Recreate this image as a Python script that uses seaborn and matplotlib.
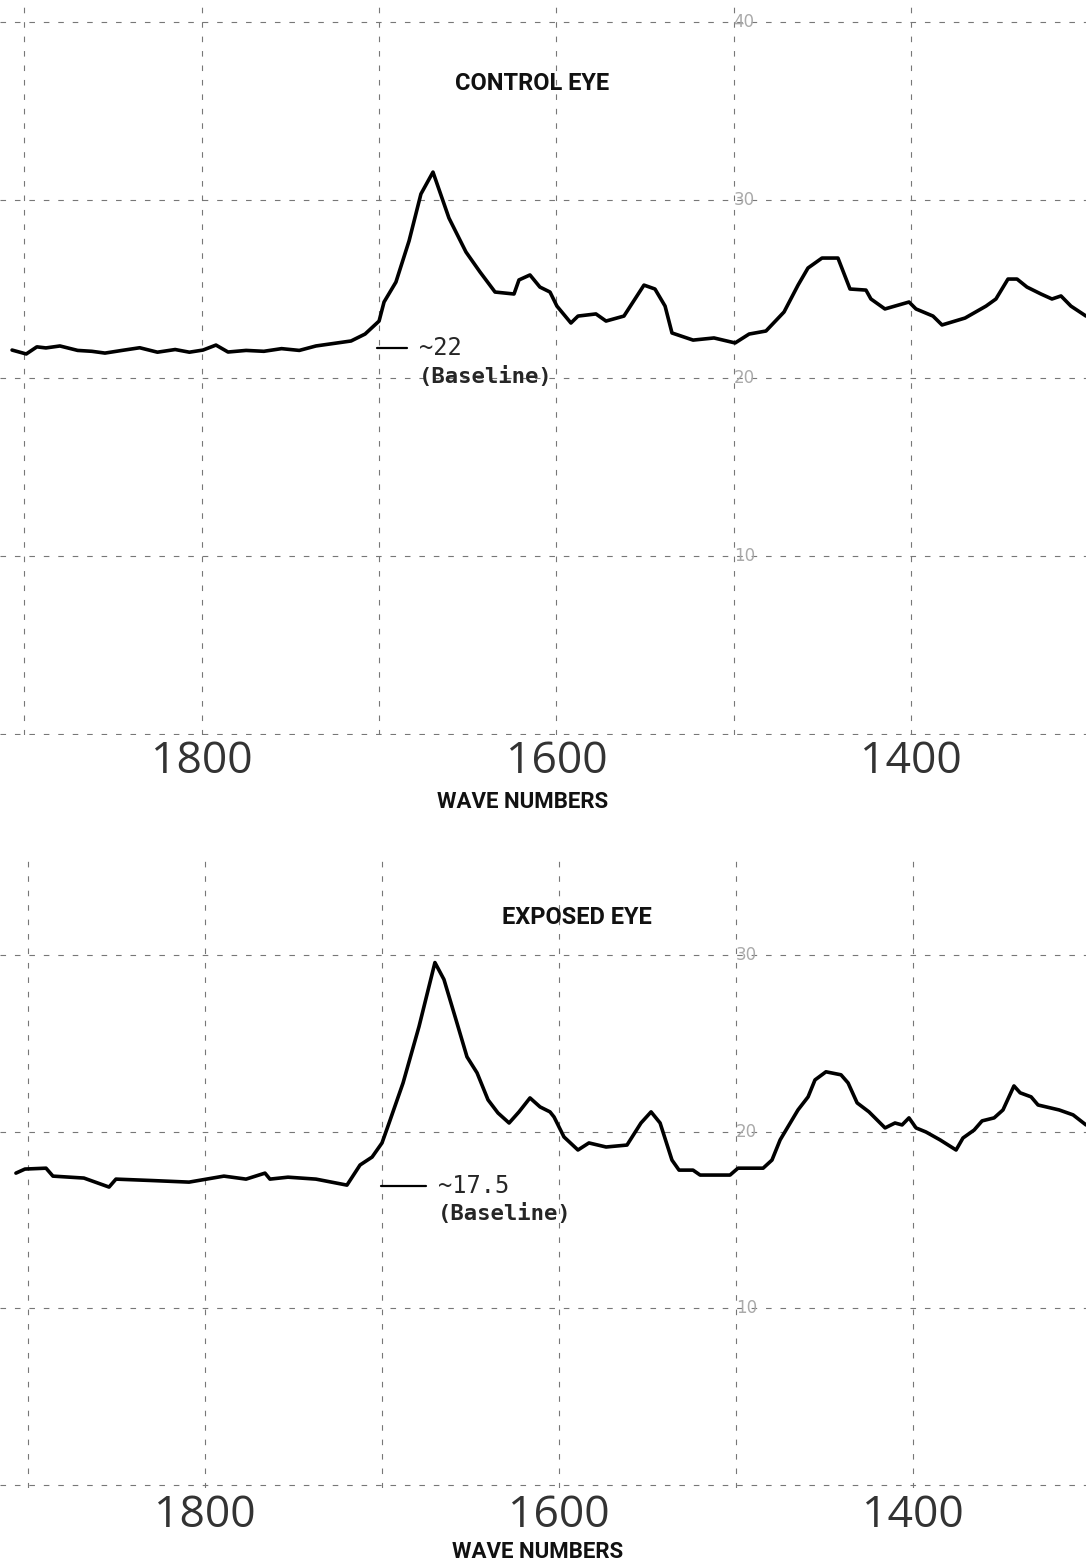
import matplotlib
matplotlib.use("Agg")
import matplotlib.pyplot as plt
import seaborn as sns
import pandas as pd

sns.set_style("white")
plt.rcParams['font.family'] = ['DejaVu Sans']

# ---- data (wave numbers, cm^-1, vs. reading) ----
control_wn = [1907.0, 1899.0, 1893.0, 1887.9, 1880.0, 1870.0, 1862.0, 1854.6, 1845.0, 1835.0,
              1825.0, 1815.0, 1807.0, 1799.3, 1792.0, 1785.2, 1775.0, 1765.0, 1755.0, 1745.0,
              1735.6, 1725.0, 1715.8, 1707.9, 1700.0, 1697.2, 1690.5, 1683.1, 1676.4, 1669.6,
              1660.6, 1651.0, 1643.1, 1634.6, 1623.9, 1621.1, 1614.9, 1609.3, 1603.6, 1599.7,
              1591.8, 1587.8, 1577.7, 1572.0, 1561.9, 1550.6, 1544.4, 1538.7, 1534.8, 1522.9,
              1511.1, 1499.2, 1491.3, 1481.8, 1471.6, 1463.7, 1458.1, 1450.2, 1441.2, 1434.4,
              1425.4, 1422.6, 1414.7, 1401.1, 1397.2, 1387.6, 1382.5, 1369.5, 1357.7, 1352.1,
              1345.3, 1340.2, 1334.6, 1326.7, 1320.5, 1315.4, 1309.8, 1301.3]
control_val = [21.57, 21.35, 21.75, 21.69, 21.80, 21.55, 21.50, 21.40, 21.55, 21.70,
               21.45, 21.60, 21.45, 21.57, 21.85, 21.46, 21.55, 21.50, 21.65, 21.55,
               21.80, 21.95, 22.08, 22.47, 23.20, 24.27, 25.39, 27.70, 30.34, 31.57,
               28.99, 27.08, 25.96, 24.83, 24.72, 25.51, 25.79, 25.11, 24.83, 24.04,
               23.09, 23.48, 23.60, 23.20, 23.48, 25.22, 25.00, 24.04, 22.53, 22.13,
               22.25, 21.97, 22.47, 22.64, 23.71, 25.22, 26.18, 26.74, 26.74, 25.00,
               24.94, 24.44, 23.88, 24.27, 23.88, 23.48, 22.98, 23.37, 24.04, 24.44,
               25.56, 25.56, 25.11, 24.72, 24.44, 24.61, 24.04, 23.48]

exposed_wn = [1906.8, 1901.7, 1889.8, 1885.9, 1868.4, 1854.2, 1850.3, 1830.0, 1809.0, 1789.3,
              1776.8, 1766.1, 1763.3, 1753.1, 1737.3, 1719.8, 1712.4, 1705.6, 1700.0, 1696.0,
              1688.1, 1679.1, 1670.1, 1665.0, 1658.2, 1652.0, 1646.3, 1640.1, 1634.5, 1628.2,
              1622.6, 1616.4, 1610.7, 1605.1, 1602.8, 1597.2, 1589.3, 1583.1, 1573.4, 1561.6,
              1553.7, 1548.0, 1542.9, 1536.2, 1532.2, 1524.3, 1520.3, 1503.4, 1498.9, 1484.7,
              1479.7, 1475.1, 1465.0, 1459.3, 1455.4, 1449.2, 1440.7, 1436.7, 1431.6, 1424.9,
              1415.8, 1410.2, 1406.2, 1402.3, 1398.3, 1392.7, 1384.7, 1375.7, 1371.8, 1365.5,
              1361.0, 1354.2, 1349.2, 1343.0, 1339.5, 1333.3, 1329.4, 1317.5, 1309.6, 1302.3]
exposed_val = [17.67, 17.90, 17.95, 17.50, 17.39, 16.88, 17.33, 17.25, 17.16, 17.50,
               17.33, 17.67, 17.33, 17.44, 17.33, 16.99, 18.13, 18.58, 19.38, 20.51,
               22.78, 25.97, 29.60, 28.64, 26.36, 24.26, 23.35, 21.82, 21.08, 20.51,
               21.14, 21.93, 21.42, 21.14, 20.85, 19.72, 18.98, 19.38, 19.15, 19.26,
               20.51, 21.14, 20.51, 18.41, 17.84, 17.84, 17.56, 17.56, 17.95, 17.95,
               18.41, 19.55, 21.25, 21.99, 22.95, 23.41, 23.24, 22.78, 21.65, 21.14,
               20.23, 20.51, 20.40, 20.80, 20.23, 20.00, 19.55, 18.98, 19.66, 20.11,
               20.63, 20.80, 21.25, 22.61, 22.22, 21.99, 21.53, 21.25, 20.97, 20.40]

tick_wn = [1800, 1600, 1400]
tick_labels = ["1800", "1600", "1400"]
grid_wn = [1900, 1800, 1700, 1600, 1500, 1400, 1300]
grid_val = [0, 10, 20, 30, 40]

W, H = 1086, 1566
fig = plt.figure(figsize=(W / 100, H / 100), dpi=100)

def add_ax(top_px, bot_px):
    return fig.add_axes([0, 1 - bot_px / H, 1, (bot_px - top_px) / H])

def ftext(x_px, y_px, s, **kw):
    fig.text(x_px / W, 1 - y_px / H, s, **kw)

ax1 = add_ax(0, 735)
ax2 = add_ax(860, 1488)

panels = [
    (ax1, control_wn, control_val, (1913.8, 1301.3), (-0.06, 41.24), 3.0),
    (ax2, exposed_wn, exposed_val, (1915.8, 1302.3), (-0.17, 35.41), 4.0),
]

for ax, wn, val, xl, yl, pad in panels:
    for g in grid_wn:
        ax.axvline(g, color="#777777", lw=0.8, ls=(0, (5, 8)), zorder=0)
    for g in grid_val:
        ax.axhline(g, color="#777777", lw=0.8, ls=(0, (5, 8)), zorder=0)
    df = pd.DataFrame({"wn": wn, "val": val})
    sns.lineplot(data=df, x="wn", y="val", ax=ax, sort=False, estimator=None,
                 color="black", lw=2.6)
    ax.set_xlim(*xl)
    ax.set_ylim(*yl)
    for s in ax.spines.values():
        s.set_visible(False)
    ax.set_yticks([])
    ax.set_xticks(tick_wn)
    ax.set_xticklabels(tick_labels, fontsize=32, color="#333333",
                       family=["Open Sans", "DejaVu Sans"])
    ax.tick_params(axis="x", length=0, pad=pad)
    ax.set_xlabel("")
    ax.set_ylabel("")
    ax.patch.set_alpha(0)

lab_kw = dict(ha="center", va="center", fontweight="bold", color="#111111",
              family=["Roboto", "DejaVu Sans"])
ftext(523, 802, "WAVE NUMBERS", fontsize=16, **lab_kw)
ftext(538, 1552, "WAVE NUMBERS", fontsize=16, **lab_kw)
ftext(532, 83, "CONTROL EYE", fontsize=17, **lab_kw)
ftext(577, 917, "EXPOSED EYE", fontsize=17, **lab_kw)

# faint grid value labels
for v, s in [(40, "40"), (30, "30"), (20, "20"), (10, "10")]:
    ax1.text(1500, v, s, ha="left", va="center", fontsize=12, color="#aaaaaa")
for v, s in [(30, "30"), (20, "20"), (10, "10")]:
    ax2.text(1500, v, s, ha="left", va="center", fontsize=12, color="#aaaaaa")

# baseline annotations
mono = ["DejaVu Sans Mono"]
ax1.plot([1701.2, 1684.3], [21.69, 21.69], color="black", lw=1.6)
ax1.text(1677.5, 21.69, "~22", ha="left", va="center", fontsize=17, family=mono)
ax1.text(1677.5, 20.06, "(Baseline)", ha="left", va="center", fontsize=16,
         fontweight="bold", family=mono)

ax2.plot([1700.6, 1675.1], [16.93, 16.93], color="black", lw=1.6)
ax2.text(1668.4, 16.93, "~17.5", ha="left", va="center", fontsize=17, family=mono)
ax2.text(1668.4, 15.40, "(Baseline)", ha="left", va="center", fontsize=16,
         fontweight="bold", family=mono)

fig.savefig("out.png", dpi=100)
